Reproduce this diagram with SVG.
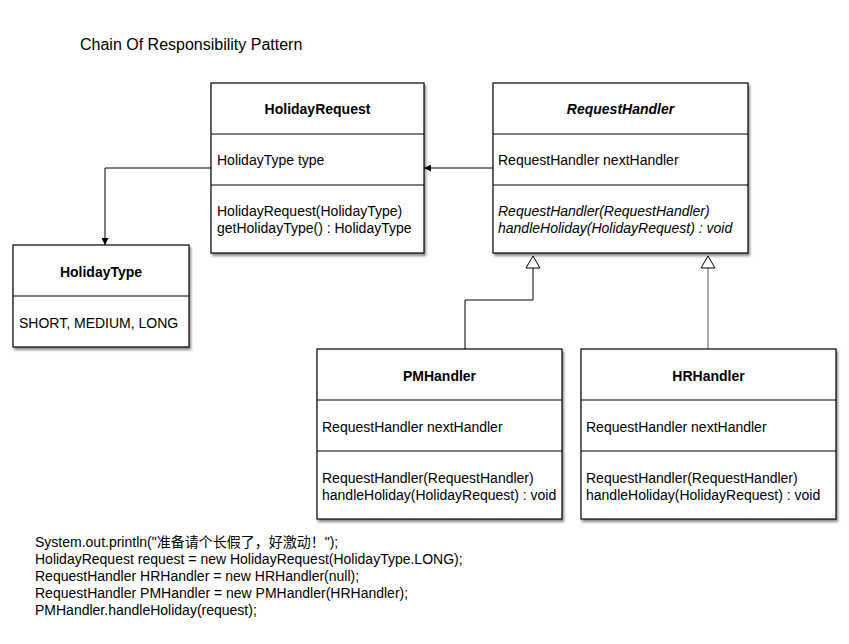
<svg xmlns="http://www.w3.org/2000/svg" width="849" height="644" viewBox="0 0 849 644">
<style>
text{font-family:"Liberation Sans","Noto Sans CJK SC",sans-serif;font-size:14px;fill:#000}
.t{font-weight:bold;text-anchor:middle}
.i{font-style:italic}
.box{fill:#fff;stroke:#000;stroke-width:1.2}
.div{stroke:#000;stroke-width:1}
.c{fill:none;stroke:#000;stroke-width:1}
</style>
<defs>
<filter id="sh" x="-10%" y="-10%" width="130%" height="130%">
<feDropShadow dx="1.5" dy="2.5" stdDeviation="1.2" flood-color="#000" flood-opacity="0.45"/>
</filter>
<marker id="arr" viewBox="0 0 10 10" refX="10" refY="5" markerWidth="9" markerHeight="7" markerUnits="userSpaceOnUse" orient="auto">
<path d="M0,0 L10,5 L0,10 z" fill="#000"/>
</marker>
</defs>
<rect width="849" height="644" fill="#fff"/>
<text x="80" y="50" style="font-size:16px">Chain Of Responsibility Pattern</text>

<g id="connectors">
<polyline class="c" points="211,168 105,168 105,245" marker-end="url(#arr)"/>
<line class="c" x1="493" y1="168" x2="424" y2="168" marker-end="url(#arr)"/>
<polyline class="c" points="465,349 465,300 533,300 533,268"/>
<line class="c" x1="708" y1="349" x2="708" y2="268" style="stroke:#555"/>
<path d="M533,256 L526,268 L540,268 z" fill="#fff" stroke="#000" stroke-width="1"/>
<path d="M708,256 L701,268 L715,268 z" fill="#fff" stroke="#000" stroke-width="1"/>
</g>

<g id="HolidayRequest">
<rect class="box" x="211" y="83" width="213" height="170" filter="url(#sh)"/>
<line class="div" x1="211" y1="134" x2="424" y2="134"/>
<line class="div" x1="211" y1="185" x2="424" y2="185"/>
<text class="t" x="317.5" y="114">HolidayRequest</text>
<text x="217" y="165">HolidayType type</text>
<text x="217" y="216">HolidayRequest(HolidayType)</text>
<text x="217" y="233">getHolidayType() : HolidayType</text>
</g>

<g id="RequestHandler">
<rect class="box" x="493" y="83" width="255" height="170" filter="url(#sh)"/>
<line class="div" x1="493" y1="134" x2="748" y2="134"/>
<line class="div" x1="493" y1="185" x2="748" y2="185"/>
<text class="t i" x="620.5" y="114">RequestHandler</text>
<text x="498" y="165">RequestHandler nextHandler</text>
<text class="i" x="498" y="216">RequestHandler(RequestHandler)</text>
<text class="i" x="498" y="233">handleHoliday(HolidayRequest) : void</text>
</g>

<g id="HolidayType">
<rect class="box" x="13" y="245" width="176" height="102" filter="url(#sh)"/>
<line class="div" x1="13" y1="296" x2="189" y2="296"/>
<text class="t" x="101" y="277">HolidayType</text>
<text x="19" y="328">SHORT, MEDIUM, LONG</text>
</g>

<g id="PMHandler">
<rect class="box" x="317" y="349" width="245" height="170" filter="url(#sh)"/>
<line class="div" x1="317" y1="400" x2="562" y2="400"/>
<line class="div" x1="317" y1="451" x2="562" y2="451"/>
<text class="t" x="439.5" y="381">PMHandler</text>
<text x="322" y="432">RequestHandler nextHandler</text>
<text x="322" y="483">RequestHandler(RequestHandler)</text>
<text x="322" y="500">handleHoliday(HolidayRequest) : void</text>
</g>

<g id="HRHandler">
<rect class="box" x="581" y="349" width="255" height="170" filter="url(#sh)"/>
<line class="div" x1="581" y1="400" x2="836" y2="400"/>
<line class="div" x1="581" y1="451" x2="836" y2="451"/>
<text class="t" x="708.5" y="381">HRHandler</text>
<text x="586" y="432">RequestHandler nextHandler</text>
<text x="586" y="483">RequestHandler(RequestHandler)</text>
<text x="586" y="500">handleHoliday(HolidayRequest) : void</text>
</g>

<g id="code">
<text x="35" y="547">System.out.println("准备请个长假了，好激动！");</text>
<text x="35" y="564">HolidayRequest request = new HolidayRequest(HolidayType.LONG);</text>
<text x="35" y="581">RequestHandler HRHandler = new HRHandler(null);</text>
<text x="35" y="598">RequestHandler PMHandler = new PMHandler(HRHandler);</text>
<text x="35" y="615">PMHandler.handleHoliday(request);</text>
</g>
</svg>
